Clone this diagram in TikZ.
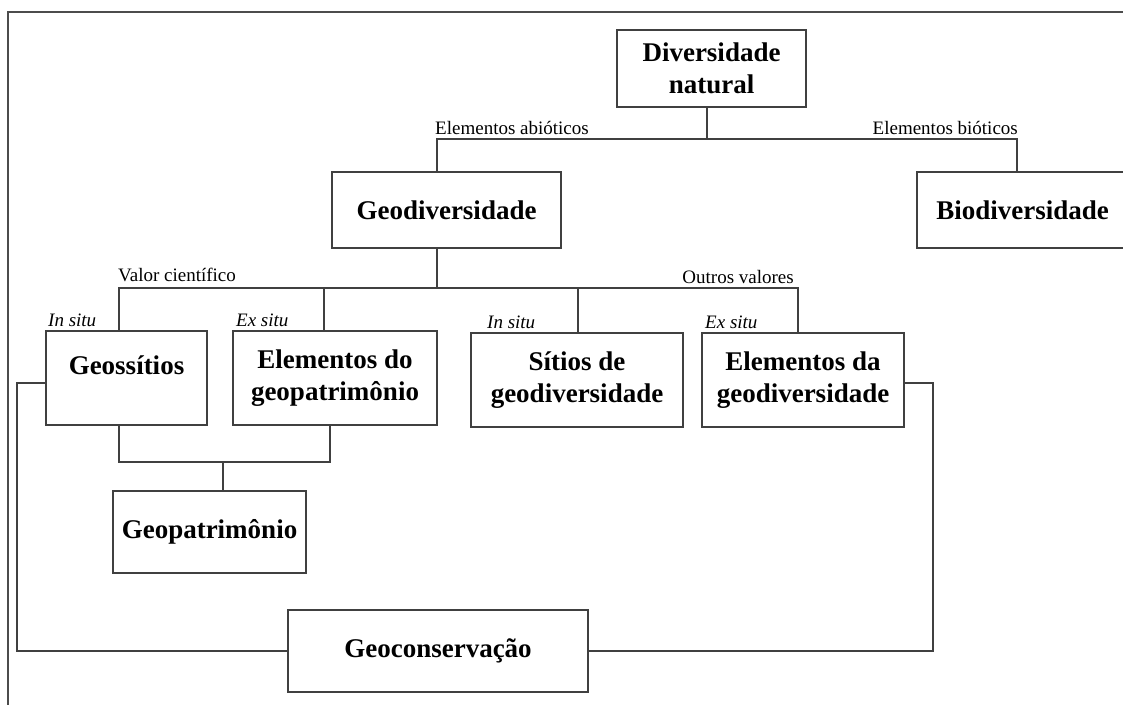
\documentclass[tikz,border=0pt]{standalone}
\usepackage{fontspec}
\setmainfont{Liberation Serif}
\tikzset{
    BX/.style 2 args ={rectangle, draw=black!75, line width=1.4pt, minimum width=#1, minimum height=#2,
        inner sep=0pt, align=center, font=\fontsize{27}{32}\selectfont\bfseries},
    LB/.style ={inner sep=0pt, font=\fontsize{19}{22}\selectfont},
    IT/.style ={inner sep=0pt, font=\fontsize{19}{22}\selectfont\itshape},
    LN/.style ={draw=black!75, line width=1.4pt}}
\begin{document}
\begin{tikzpicture}[x=1pt,y=-1pt]
        \useasboundingbox (0,0) rectangle (1123,704);
        \clip (0,0) rectangle (1123,704);
        \draw[draw=black!70, line width=2pt] (7.5,12) rectangle (1140,720);
        % boxes
        \node[BX={189pt}{77pt}] (DN) at(711.5,68.5){Diversidade\\natural};
        \node[BX={229pt}{76pt}] (Geo) at(446.5,210){Geodiversidade};
        \node[BX={211pt}{76pt}] (Bio) at(1022.5,210){Biodiversidade};
        \node[BX={161pt}{94pt},text depth=26pt] (Geoss) at(126.5,378){Geossítios};
        \node[BX={204pt}{94pt}] (EGP) at(335,378){Elementos do\\geopatrimônio};
        \node[BX={212pt}{94pt}] (Sit) at(577,380){Sítios de\\geodiversidade};
        \node[BX={202pt}{94pt}] (EGD) at(803,380){Elementos da\\geodiversidade};
        \node[BX={193pt}{82pt}] (GP) at(209.5,532){Geopatrimônio};
        \node[BX={300pt}{82pt}] (GC) at(438,651){Geoconservação};
        % labels
        \node[LB,anchor=base west] (abio) at(435,134){Elementos abióticos};
        \node[LB,anchor=base east] (bio) at(1018,134){Elementos bióticos};
        \node[LB,anchor=base west] (cient) at(118,281){Valor científico};
        \node[LB,anchor=base east] (outros) at(794,283){Outros valores};
        \node[IT,anchor=base west] (in1) at(48,326){In situ};
        \node[IT,anchor=base west] (ex1) at(236,326){Ex situ};
        \node[IT,anchor=base west] (in2) at(487,328){In situ};
        \node[IT,anchor=base west] (ex2) at(705,328){Ex situ};
        % junctions
        \coordinate (A1) at (707,139);
        \coordinate (A2) at (437,139);
        \coordinate (A3) at (1017,139);
        \coordinate (B1) at (437,288);
        \coordinate (B2) at (119,288);
        \coordinate (B3) at (324,288);
        \coordinate (B4) at (578,288);
        \coordinate (B5) at (798,288);
        \coordinate (C1) at (119,462);
        \coordinate (C2) at (330,462);
        \coordinate (C3) at (223,462);
        \coordinate (D1) at (17,383);
        \coordinate (D2) at (933,383);
        % connectors
        \draw[LN] (DN.south -| A1) -- (A1);
        \draw[LN] (Geo.north -| A2) -- (A2) -- (A3) -- (Bio.north -| A3);
        \draw[LN] (Geo.south -| B1) -- (B1);
        \draw[LN] (Geoss.north -| B2) -- (B2) -- (B5) -- (EGD.north -| B5);
        \draw[LN] (EGP.north -| B3) -- (B3);
        \draw[LN] (Sit.north -| B4) -- (B4);
        \draw[LN] (Geoss.south -| C1) -- (C1) -- (C2) -- (EGP.south -| C2);
        \draw[LN] (C3) -- (GP.north -| C3);
        \draw[LN] (Geoss.west |- D1) -- (D1) |- (GC.west);
        \draw[LN] (EGD.east |- D2) -- (D2) |- (GC.east);
    \end{tikzpicture}
\end{document}
